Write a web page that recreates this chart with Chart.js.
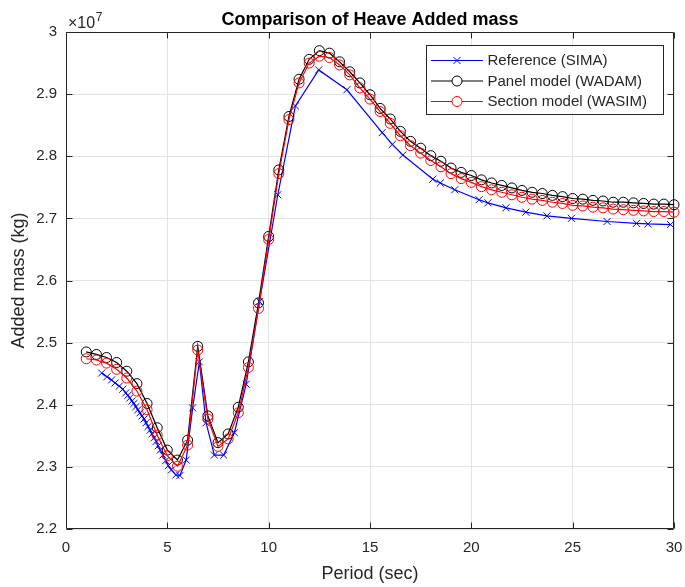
<!DOCTYPE html>
<html><head><meta charset="utf-8">
<script src="https://cdn.jsdelivr.net/npm/chart.js@4.4.1/dist/chart.umd.min.js"></script>
<style>html,body{margin:0;padding:0;background:#fff}canvas{display:block}</style>
</head><body>
<canvas id="c" width="685" height="587"></canvas>
<script>
// ---- data (added mass in units of 1e7 kg) ----
const simaPeriod = [1.76,2.02,2.25,2.42,2.63,2.80,2.95,3.05,3.15,3.25,3.35,3.45,3.55,3.65,3.75,3.85,3.95,4.05,4.15,4.25,4.35,4.45,4.55,4.65,4.78,4.92,5.05,5.20,5.42,5.62,5.93,6.25,6.58,6.91,7.32,7.78,8.31,8.89,9.55,10.45,11.32,12.47,13.86,15.60,16.10,16.62,18.10,18.47,19.18,20.38,20.82,21.71,22.69,23.73,24.94,26.70,28.15,28.72,29.83];
const simaMass = [2.451,2.445,2.440,2.435,2.430,2.425,2.419,2.415,2.411,2.406,2.402,2.397,2.392,2.387,2.382,2.377,2.371,2.365,2.359,2.353,2.347,2.341,2.334,2.327,2.319,2.310,2.302,2.295,2.287,2.286,2.311,2.395,2.469,2.371,2.319,2.319,2.355,2.433,2.566,2.738,2.881,2.939,2.907,2.838,2.819,2.802,2.763,2.757,2.746,2.730,2.725,2.717,2.710,2.704,2.700,2.695,2.692,2.691,2.690];
const modelPeriod = [1,1.5,2,2.5,3,3.5,4,4.5,5,5.5,6,6.5,7,7.5,8,8.5,9,9.5,10,10.5,11,11.5,12,12.5,13,13.5,14,14.5,15,15.5,16,16.5,17,17.5,18,18.5,19,19.5,20,20.5,21,21.5,22,22.5,23,23.5,24,24.5,25,25.5,26,26.5,27,27.5,28,28.5,29,29.5,30];
const wadamMass = [2.485,2.481,2.476,2.468,2.454,2.434,2.402,2.363,2.327,2.311,2.343,2.494,2.382,2.339,2.353,2.396,2.469,2.564,2.671,2.778,2.864,2.924,2.956,2.970,2.966,2.952,2.936,2.918,2.899,2.877,2.860,2.840,2.824,2.813,2.801,2.792,2.781,2.774,2.769,2.762,2.757,2.753,2.749,2.745,2.742,2.740,2.737,2.735,2.732,2.731,2.729,2.728,2.726,2.726,2.725,2.724,2.723,2.723,2.722];
const wasimMass = [2.474,2.472,2.467,2.457,2.443,2.422,2.392,2.351,2.318,2.301,2.335,2.488,2.377,2.333,2.345,2.387,2.460,2.555,2.666,2.772,2.859,2.918,2.950,2.961,2.959,2.947,2.931,2.910,2.892,2.872,2.853,2.833,2.817,2.805,2.793,2.783,2.772,2.764,2.758,2.751,2.746,2.742,2.738,2.734,2.731,2.729,2.726,2.724,2.721,2.720,2.718,2.717,2.715,2.714,2.713,2.712,2.711,2.711,2.710];
const xTicks = [0,5,10,15,20,25,30];
const yTicks = [2.2,2.3,2.4,2.5,2.6,2.7,2.8,2.9,3.0];
const seriesNames = ['Reference (SIMA)','Panel model (WADAM)','Section model (WASIM)'];
const titleText = 'Comparison of Heave Added mass';
const xLabel = 'Period (sec)';
const yLabel = 'Added mass (kg)';
const yExponent = '7';

const FONT = '"Liberation Sans", Arial, Helvetica, sans-serif';
const AX = '#262626';

function pts(xs, ys){ return xs.map((x,i)=>({x:x, y:ys[i]})); }

const styles = [
  {color:'#0000ff', style:'crossRot', r:5},
  {color:'#000000', style:'circle', r:5},
  {color:'#ff0000', style:'circle', r:5}
];

const frame = {
  id:'frame',
  beforeDatasetsDraw(chart){
    const {ctx, chartArea:a, scales:{x, y}} = chart;
    ctx.save();
    ctx.strokeStyle = AX; ctx.lineWidth = 1;
    ctx.beginPath();
    const L = a.left + 0.5, R = a.right - 0.5, T = a.top + 0.5, B = a.bottom - 0.5;
    ctx.rect(L, T, R - L, B - T);
    xTicks.forEach(v=>{ const p = Math.round(x.getPixelForValue(v)) + 0.5;
      ctx.moveTo(p, B); ctx.lineTo(p, B - 6); ctx.moveTo(p, T); ctx.lineTo(p, T + 6); });
    yTicks.forEach(v=>{ const p = Math.round(y.getPixelForValue(v)) + 0.5;
      ctx.moveTo(L, p); ctx.lineTo(L + 6, p); ctx.moveTo(R, p); ctx.lineTo(R - 6, p); });
    ctx.stroke();
    ctx.restore();
  },
  afterDraw(chart){
    const {ctx, chartArea:a} = chart;
    ctx.save();
    // title
    ctx.fillStyle = '#000';
    ctx.font = 'bold 18px ' + FONT;
    ctx.textAlign = 'center'; ctx.textBaseline = 'alphabetic';
    ctx.fillText(titleText, (a.left + a.right) / 2, 25);
    // exponent
    ctx.fillStyle = AX;
    ctx.textAlign = 'left';
    ctx.font = '16px ' + FONT;
    const base = '\u00d710';
    ctx.fillText(base, a.left + 2, 28);
    const w = ctx.measureText(base).width;
    ctx.font = '12px ' + FONT;
    ctx.fillText(yExponent, a.left + 2 + w + 0.5, 21);
    // legend
    const bx = 426.5, by = 45.5, bw = 237, bh = 69;
    ctx.fillStyle = '#fff'; ctx.fillRect(bx, by, bw, bh);
    ctx.strokeStyle = AX; ctx.lineWidth = 1; ctx.strokeRect(bx, by, bw, bh);
    const rows = [60.5, 81, 101.5];
    ctx.font = '15px ' + FONT; ctx.textBaseline = 'middle';
    seriesNames.forEach((name, i)=>{
      const s = styles[i], yy = rows[i];
      ctx.strokeStyle = s.color; ctx.lineWidth = 1.2;
      ctx.beginPath(); ctx.moveTo(431, yy); ctx.lineTo(483, yy); ctx.stroke();
      ctx.lineWidth = 1;
      ctx.beginPath();
      if (s.style === 'circle') { ctx.fillStyle = '#fff'; ctx.arc(457, yy, s.r, 0, Math.PI*2); ctx.fill(); ctx.stroke(); }
      else { const d = s.r * 0.707; ctx.moveTo(457-d, yy-d); ctx.lineTo(457+d, yy+d); ctx.moveTo(457-d, yy+d); ctx.lineTo(457+d, yy-d); ctx.stroke(); }
      ctx.fillStyle = AX;
      ctx.fillText(name, 487.5, yy + 0.5);
    });
    ctx.restore();
  }
};

function ds(i, data, order){
  const s = styles[i];
  return {
    label: seriesNames[i], data: data, showLine: true, order: order,
    borderColor: s.color, backgroundColor: s.color, borderWidth: 1.2,
    pointStyle: s.style, pointRadius: s.r, pointHoverRadius: s.r,
    pointBorderColor: s.color, pointBorderWidth: 1,
    pointBackgroundColor: 'rgba(0,0,0,0)', tension: 0, clip: false
  };
}

new Chart(document.getElementById('c'), {
  type: 'scatter',
  data: { datasets: [
    ds(0, pts(simaPeriod, simaMass), 3),
    ds(1, pts(modelPeriod, wadamMass), 2),
    ds(2, pts(modelPeriod, wasimMass), 1)
  ]},
  options: {
    responsive: false, animation: false, devicePixelRatio: 1, events: [],
    layout: { padding: { left: 0, right: 11, top: 32, bottom: 0 } },
    plugins: { legend: { display: false }, tooltip: { enabled: false }, title: { display: false } },
    scales: {
      x: {
        type: 'linear', position: 'bottom', min: 0, max: 30,
        afterBuildTicks: s => { s.ticks = xTicks.map(v => ({value: v})); },
        afterFit: s => { s.height = 58; s.paddingLeft = 0; s.paddingRight = 0; },
        grid: { color: '#e3e3e3', drawTicks: false, lineWidth: 1 },
        border: { display: false },
        ticks: { padding: 10, color: AX, font: { size: 15, family: FONT }, maxRotation: 0, autoSkip: false,
                 callback: v => String(v) },
        title: { display: true, text: xLabel, color: AX, font: { size: 18, family: FONT }, padding: { top: 0, bottom: 2 } }
      },
      y: {
        type: 'linear', position: 'left', min: 2.2, max: 3.0,
        afterBuildTicks: s => { s.ticks = yTicks.map(v => ({value: v})); },
        afterFit: s => { s.width = 66; s.paddingTop = 0; s.paddingBottom = 0; },
        grid: { color: '#e3e3e3', drawTicks: false, lineWidth: 1 },
        border: { display: false },
        ticks: { padding: 9, color: AX, font: { size: 15, family: FONT }, autoSkip: false,
                 callback: v => String(Number(Number(v).toFixed(1))) },
        title: { display: true, text: yLabel, color: AX, font: { size: 18, family: FONT }, padding: { top: 8, bottom: 0 } }
      }
    }
  },
  plugins: [frame]
});
</script>
</body></html>
